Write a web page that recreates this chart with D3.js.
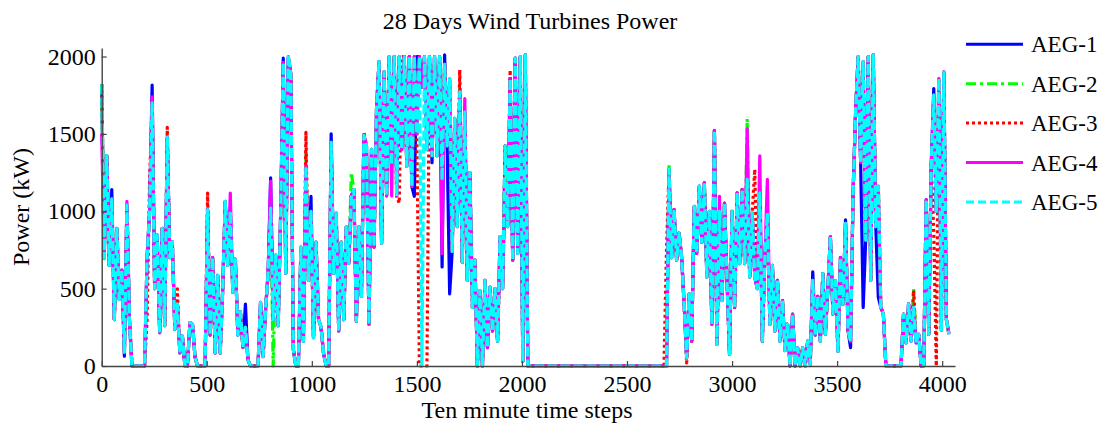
<!DOCTYPE html>
<html><head><meta charset="utf-8">
<script src="https://cdn.jsdelivr.net/npm/d3@7"></script>
<style>
body{margin:0;background:#fff}
svg{display:block;background:#fff}
text{font-family:"Liberation Serif","Times New Roman",serif;fill:#000}
</style>
</head><body>
<svg id="chart" width="1109" height="426"></svg>
<script>
const chartTitle = "28 Days Wind Turbines Power";
const xLabel = "Ten minute time steps";
const yLabel = "Power (kW)";
const seriesNames = ["AEG-1","AEG-2","AEG-3","AEG-4","AEG-5"];
const xTicks = [0,500,1000,1500,2000,2500,3000,3500,4000];
const yTicks = [0,500,1000,1500,2000];
// values sampled every 12th ten-minute step (0, 12, 24, ... 4032)
const sampleStep = 12;

const aeg1 = [
1820,700,1360,650,1140,300,890,430,620,63,
1040,300,0,0,0,0,0,0,700,1000,
1815,500,846,215,890,260,1478,700,803,237,
400,85,194,0,0,281,270,60,0,0,
0,0,1010,200,700,85,585,85,500,1064,
650,1000,477,690,200,350,120,400,40,0,
0,0,0,411,60,368,600,1216,300,716,
260,1000,1989,600,1990,1890,107,0,0,748,
160,1292,553,1097,183,800,300,250,80,0,
0,1500,600,988,227,800,300,900,663,1100,
1140,290,900,450,1490,1423,270,1400,770,1662,
1967,793,1901,1100,2000,1300,2000,1293,2000,1400,
2000,1290,2000,1160,1097,2000,2000,1800,2000,1400,
2000,1314,2000,1359,2000,640,2010,1423,466,740,
1600,900,1772,670,1640,553,1249,466,684,0,
488,0,553,118,510,227,500,161,836,500,
1423,900,1858,684,1989,727,2000,31,2010,0,
0,0,0,0,0,0,0,0,0,0,
0,0,0,0,0,0,0,0,0,0,
0,0,0,0,0,0,0,0,0,0,
0,0,0,0,0,0,0,0,0,0,
0,0,0,0,0,0,0,0,0,0,
0,0,0,0,0,1271,700,1010,684,858,
700,400,53,466,161,1031,727,1162,800,1184,
575,1000,270,1521,140,1000,423,1053,553,75,
1000,379,1053,662,1140,662,1206,575,988,575,
500,1119,161,700,988,270,650,227,553,161,
423,100,270,0,336,0,118,0,118,0,
161,10,608,200,450,161,597,205,500,836,
336,550,96,700,400,944,227,118,1119,1641,
2000,1315,379,814,2000,553,2010,900,444,379,
336,0,0,0,0,0,0,0,336,150,
401,161,379,150,205,0,0,1075,205,1300,
1793,1000,1119,814,1900,300,205
];

const aeg2 = [
1820,694,1360,650,1080,300,890,430,620,90,
1040,300,0,0,0,0,0,0,700,1000,
1700,500,846,215,890,260,1478,700,803,237,
400,85,194,0,0,281,270,60,0,0,
0,0,1010,200,700,85,585,85,500,1064,
650,1000,477,690,200,350,120,250,40,0,
0,0,0,411,60,368,600,1020,0,716,
260,1000,1960,600,1960,1890,107,0,0,770,
160,1380,553,1000,183,800,300,250,80,0,
0,1445,600,988,227,800,300,900,663,1250,
1140,290,900,450,1510,1423,270,1400,770,1662,
1967,793,1901,1100,2000,1300,2000,1097,2000,1400,
2000,1290,2000,1160,2000,1500,2000,1800,2000,1400,
2000,1359,2000,1359,2000,1200,1950,1423,1858,740,
1600,900,1793,670,1640,553,1249,379,684,0,
488,0,553,118,510,227,500,161,836,500,
1423,900,1858,684,1989,727,2000,31,2010,0,
0,0,0,0,0,0,0,0,0,0,
0,0,0,0,0,0,0,0,0,0,
0,0,0,0,0,0,0,0,0,0,
0,0,0,0,0,0,0,0,0,0,
0,0,0,0,0,0,0,0,0,0,
0,0,0,0,0,1304,700,1010,684,858,
700,400,53,466,161,1031,727,1162,800,1184,
575,1000,270,1521,140,1000,423,1053,553,75,
1000,379,1119,662,1140,662,1597,575,988,575,
500,1119,161,700,988,270,650,227,553,161,
423,100,270,0,336,0,118,0,118,0,
161,10,553,200,450,161,597,205,500,836,
336,550,96,700,400,922,227,161,1119,1641,
2000,1315,1967,814,2000,553,2010,900,1162,379,
336,0,0,0,0,0,0,0,336,150,
401,161,499,150,205,0,0,1075,205,1300,
1750,1000,1858,230,1900,300,205
];

const aeg3 = [
1820,738,1360,650,1080,300,890,430,620,90,
1040,300,0,0,0,0,0,0,300,1195,
1700,500,846,215,890,260,1543,700,803,237,
498,85,194,0,0,281,270,60,0,0,
0,0,1118,200,700,85,585,85,500,1064,
650,1000,477,690,200,350,120,250,40,0,
0,0,0,411,60,368,600,1020,300,716,
260,1000,1960,600,1950,1890,107,0,0,770,
160,1510,553,1000,183,800,300,250,80,0,
0,1445,600,988,227,800,300,900,663,1100,
1140,290,900,450,1510,1423,270,1400,770,1662,
1967,793,1901,1100,2000,1300,2000,1097,1053,2000,
2000,1290,2000,1160,2000,1500,0,0,0,0,
2000,1359,2000,1359,2000,1200,1950,1423,1858,740,
1600,900,1913,670,1640,553,1249,379,684,0,
488,0,553,118,510,227,500,161,727,500,
1423,900,1913,684,1989,727,2000,31,2010,0,
0,0,0,0,0,0,0,0,0,0,
0,0,0,0,0,0,0,0,0,0,
0,0,0,0,0,0,0,0,0,0,
0,0,0,0,0,0,0,0,0,0,
0,0,0,0,0,0,0,0,0,0,
0,0,0,0,749,1271,700,1010,684,858,
700,400,20,466,161,1031,727,1162,800,1184,
575,1000,270,1521,140,1000,423,1053,553,75,
1000,379,1119,662,1140,662,1206,575,988,1271,
500,1119,161,700,988,270,650,227,553,161,
423,100,270,0,336,0,118,0,118,0,
161,10,553,200,450,161,597,205,500,836,
336,550,96,700,400,922,227,161,1119,1641,
2000,1315,1967,814,2000,553,2010,900,1162,379,
336,0,0,0,0,0,0,0,336,150,
401,161,488,150,205,0,0,1075,205,1300,
860,0,1858,230,1900,300,205
];

const aeg4 = [
1500,700,1360,650,1080,300,890,430,620,90,
1064,300,0,0,0,0,0,0,700,1000,
1740,500,846,215,890,260,1478,700,803,237,
400,85,194,0,0,281,270,60,0,0,
0,0,1010,200,700,85,585,85,500,1064,
650,1118,477,690,200,350,120,250,40,0,
0,0,0,411,60,368,600,1195,300,716,
260,1000,1960,600,2000,1890,107,0,0,770,
160,1292,553,1000,183,800,300,250,80,0,
0,1445,600,988,227,800,300,900,663,1100,
1140,290,900,450,1490,1423,270,1400,770,1662,
1967,793,1901,1100,2000,1100,2000,1097,2000,1400,
2000,1290,2000,1160,2000,1500,2000,1800,2000,1400,
2000,1359,2000,1359,2000,727,1950,1423,1858,740,
1600,900,1772,670,1728,553,1249,379,684,0,
488,0,553,118,510,227,500,161,836,500,
1184,900,1858,684,1989,727,2000,31,2010,0,
0,0,0,0,0,0,0,0,0,0,
0,0,0,0,0,0,0,0,0,0,
0,0,0,0,0,0,0,0,0,0,
0,0,0,0,0,0,0,0,0,0,
0,0,0,0,0,0,0,0,0,0,
0,0,0,0,0,1250,700,1010,684,858,
700,400,53,466,161,1031,727,1162,800,1184,
575,1000,270,1521,140,1097,423,1053,553,75,
1000,379,1119,662,1140,662,1532,575,988,575,
500,1358,161,700,1206,270,650,227,553,161,
423,100,270,0,336,0,118,0,118,0,
161,10,553,200,450,161,597,205,500,836,
336,550,96,700,400,922,227,161,1119,1641,
2000,1315,1967,814,2000,553,2010,900,1162,379,
336,0,0,0,0,0,0,0,336,150,
401,161,379,150,205,0,0,1075,205,1300,
1750,1000,1858,230,1902,300,215
];

const aeg5 = [
1820,700,1360,650,1080,300,890,430,620,90,
1040,300,0,0,0,0,0,0,700,1000,
1700,500,846,215,890,260,1478,700,803,237,
400,85,194,0,0,281,270,60,0,0,
0,0,1010,200,700,85,585,85,500,1064,
650,1000,477,690,200,350,120,250,40,0,
0,0,0,411,60,368,600,1020,300,716,
260,1000,1960,600,2010,1890,107,0,0,770,
160,1292,553,1000,183,800,300,250,80,0,
0,1445,600,988,227,800,300,900,663,1100,
1140,290,900,450,1490,1423,270,1400,770,1662,
1967,793,1901,1100,2000,1300,2000,1097,2000,1400,
2000,1290,2000,1160,2000,1500,2000,0,2000,1400,
2000,1359,2000,1359,2000,1200,1950,1423,1858,740,
1600,900,1772,670,1640,553,1249,379,684,0,
488,0,553,118,510,227,500,161,836,500,
1423,900,1858,684,1989,727,2000,31,2010,0,
0,0,0,0,0,0,0,0,0,0,
0,0,0,0,0,0,0,0,0,0,
0,0,0,0,0,0,0,0,0,0,
0,0,0,0,0,0,0,0,0,0,
0,0,0,0,0,0,0,0,0,0,
0,0,0,0,0,1271,700,1010,684,858,
700,400,53,466,161,1031,727,1162,800,1184,
575,1000,270,1521,140,1000,423,1053,553,75,
1000,379,1119,662,1140,662,1206,575,988,575,
500,1119,161,700,988,270,650,227,553,161,
423,100,270,0,336,0,118,0,118,0,
161,10,553,200,450,161,597,205,500,836,
336,550,96,700,400,922,227,161,1119,1641,
2000,1315,1967,814,2000,553,2010,900,1162,379,
336,0,0,0,0,0,0,0,336,150,
401,161,379,150,205,0,0,1075,205,1300,
1750,1000,1858,230,1900,300,205
];

const seriesValues = [aeg1, aeg2, aeg3, aeg4, aeg5];
const seriesColors = ["#0000ff","#00ff00","#ff0000","#ff00ff","#00ffff"];
const seriesDash = [null, "10,4,3,4", "3,3", null, "10,3"];
const legendDash = [null, "10,4,3,4", "3,3", null, "8,4"];

const svg = d3.select("#chart");
const x = d3.scaleLinear().domain([0, 4061]).range([101.7, 955]);
const y = d3.scaleLinear().domain([0, 2055]).range([366, 48]);

// lines
const line = d3.line()
  .x((d, i) => x(i * sampleStep))
  .y(d => y(d));

const plot = svg.append("g");
seriesValues.forEach((vals, k) => {
  plot.append("path")
    .datum(vals)
    .attr("fill", "none")
    .attr("stroke", seriesColors[k])
    .attr("stroke-width", 3.2)
    .attr("stroke-linejoin", "round")
    .attr("stroke-dasharray", seriesDash[k])
    .attr("d", line);
});

// axes
const xAxis = svg.append("g")
  .attr("transform", "translate(0,366)")
  .call(d3.axisBottom(x).tickValues(xTicks).tickSizeInner(-5).tickSizeOuter(0).tickPadding(9).tickFormat(d3.format("d")));
const yAxis = svg.append("g")
  .attr("transform", "translate(101.7,0)")
  .call(d3.axisLeft(y).tickValues(yTicks).tickSizeInner(-5).tickSizeOuter(0).tickPadding(6).tickFormat(d3.format("d")));
[xAxis, yAxis].forEach(g => {
  g.attr("font-family", null).attr("font-size", 24).style("color", "#444");
  g.select(".domain").attr("stroke-width", 1.4);
  g.selectAll(".tick line").attr("stroke-width", 1.2);
  g.selectAll("text").attr("fill", "#000").style("font-family", '"Liberation Serif","Times New Roman",serif');
});

// title and labels
svg.append("text").attr("x", 530).attr("y", 29).attr("text-anchor", "middle")
  .attr("font-size", 24).text(chartTitle);
svg.append("text").attr("x", 527).attr("y", 418).attr("text-anchor", "middle")
  .attr("font-size", 24).text(xLabel);
svg.append("text").attr("transform", "translate(29,207) rotate(-90)").attr("text-anchor", "middle")
  .attr("font-size", 24).text(yLabel);

// legend
const legend = svg.append("g");
seriesNames.forEach((name, k) => {
  const ly = 44.3 + k * 39.4;
  legend.append("line")
    .attr("x1", 966).attr("x2", 1023).attr("y1", ly).attr("y2", ly)
    .attr("stroke", seriesColors[k]).attr("stroke-width", 3)
    .attr("stroke-dasharray", legendDash[k]);
  legend.append("text").attr("x", 1031).attr("y", ly + 8)
    .attr("font-size", 23).text(name);
});
</script>
</body></html>
